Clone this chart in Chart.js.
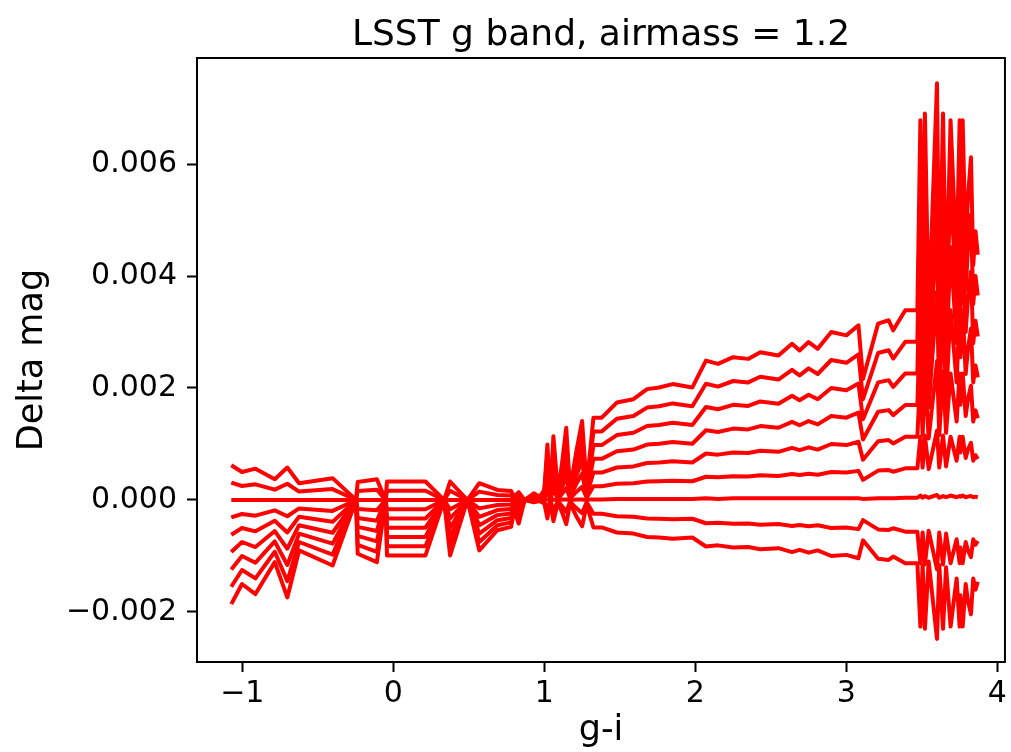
<!DOCTYPE html>
<html lang="en">
<head>
  <meta charset="UTF-8">
  <title>LSST g band, airmass = 1.2</title>
  <script src="https://cdn.jsdelivr.net/npm/chart.js"></script>
  <style>
    html, body { margin: 0; padding: 0; background: #fff; }
    #wrap { width: 1011px; height: 752px; }
  </style>
</head>
<body>
  <div id="wrap"><canvas id="chart" width="1011" height="752"></canvas></div>

  <script>
    // g-i colour of each star (shared by all curves)
    const giColor = [
      -1.073, -1.002, -0.913, -0.785, -0.702, -0.624, -0.402, -0.247, -0.236, -0.109,
      -0.051, -0.042, 0.213, 0.336, 0.376, 0.491, 0.569, 0.689, 0.78, 0.80,
      0.83, 0.869, 0.93, 0.97, 1.00, 1.02, 1.04, 1.06, 1.09, 1.12,
      1.145, 1.17, 1.21, 1.25, 1.28, 1.30, 1.325, 1.38, 1.48, 1.59,
      1.68, 1.76, 1.85, 1.98, 2.07, 2.15, 2.25, 2.35, 2.43, 2.55,
      2.64, 2.69, 2.75, 2.81, 2.90, 3.00, 3.08, 3.11, 3.21, 3.28,
      3.31, 3.39, 3.47, 3.49, 3.505, 3.52, 3.545, 3.60, 3.615, 3.64,
      3.66, 3.69, 3.73, 3.75, 3.755, 3.77, 3.79, 3.805, 3.825, 3.84,
      3.855, 3.87
    ];

    // delta mag per curve, in mmag
    const dmagLine1 = [
      0.62, 0.5, 0.56, 0.37, 0.58, 0.3, 0.39, 0, 0.32, 0.37,
      0, 0.33, 0.33, 0, 0.33, 0, 0.3, 0.18, 0.16, 0.06,
      0.14, 0, -0.04, -0.02, -0.06, -0.33, -0.02, -0.38, -0.04, -0.24,
      -0.43, -0.06, -0.28, -0.47, -0.08, -0.26, -0.49, -0.49, -0.58, -0.6,
      -0.66, -0.67, -0.69, -0.67, -0.83, -0.81, -0.85, -0.84, -0.88, -0.86,
      -0.93, -0.89, -0.94, -0.9, -1.0, -0.98, -1.04, -0.72, -1.05, -1.07,
      -1.01, -1.13, -1.13, -2.26, -1.16, -2.3, -1.1, -2.48, -1.16, -2.3,
      -1.2, -2.26, -1.4, -2.26, -1.7, -2.26, -1.5, -1.8, -2.04, -1.4,
      -1.6, -1.46
    ];
    const dmagLine2 = [
      0.31, 0.25, 0.28, 0.185, 0.29, 0.15, 0.195, 0, 0.16, 0.185,
      0, 0.165, 0.165, 0, 0.165, 0, 0.15, 0.09, 0.08, 0.03,
      0.07, 0, -0.02, -0.01, -0.03, -0.165, -0.01, -0.19, -0.02, -0.12,
      -0.215, -0.03, -0.14, -0.235, -0.04, -0.13, -0.245, -0.245, -0.29, -0.3,
      -0.33, -0.335, -0.345, -0.335, -0.415, -0.405, -0.425, -0.42, -0.44, -0.43,
      -0.465, -0.445, -0.47, -0.45, -0.5, -0.49, -0.52, -0.36, -0.525, -0.535,
      -0.505, -0.565, -0.565, -1.13, -0.58, -1.15, -0.55, -1.24, -0.58, -1.15,
      -0.6, -1.13, -0.7, -1.13, -0.85, -1.13, -0.75, -0.9, -1.02, -0.7,
      -0.8, -0.73
    ];
    const dmagLine3 = [
      0, 0, 0, 0, 0, 0, 0, 0, 0, 0,
      0, 0, 0, 0, 0, 0, 0, 0, 0, 0,
      0, 0, 0, 0, 0.01, 0.01, 0, 0.01, 0, 0.01,
      0.01, 0, 0.01, 0.01, 0, 0.01, 0.01, 0.01, 0.02, 0.02,
      0.02, 0.02, 0.02, 0.02, 0.03, 0.02, 0.03, 0.03, 0.03, 0.03,
      0.03, 0.03, 0.03, 0.03, 0.03, 0.03, 0.03, 0.02, 0.03, 0.03,
      0.03, 0.04, 0.04, 0.08, 0.04, 0.07, 0.04, 0.09, 0.04, 0.07,
      0.05, 0.08, 0.05, 0.07, 0.06, 0.08, 0.05, 0.06, 0.07, 0.05,
      0.06, 0.05
    ];
    const dmagLine4 = [
      -0.31, -0.25, -0.28, -0.185, -0.29, -0.15, -0.195, 0, -0.16, -0.185,
      0, -0.165, -0.165, 0, -0.165, 0, -0.15, -0.09, -0.08, -0.03,
      -0.07, 0, 0.02, 0.01, 0.03, 0.165, 0.01, 0.19, 0.02, 0.12,
      0.215, 0.03, 0.14, 0.235, 0.04, 0.13, 0.245, 0.245, 0.29, 0.30,
      0.33, 0.335, 0.345, 0.335, 0.415, 0.405, 0.425, 0.42, 0.44, 0.43,
      0.465, 0.445, 0.47, 0.45, 0.50, 0.49, 0.52, 0.36, 0.525, 0.535,
      0.505, 0.565, 0.565, 1.13, 0.58, 1.15, 0.55, 1.24, 0.58, 1.15,
      0.60, 1.13, 0.70, 1.13, 0.85, 1.13, 0.75, 0.90, 1.02, 0.70,
      0.80, 0.73
    ];
    const dmagLine5 = [
      -0.62, -0.5, -0.56, -0.37, -0.58, -0.3, -0.39, 0, -0.32, -0.37,
      0, -0.33, -0.33, 0, -0.33, 0, -0.3, -0.18, -0.16, -0.06,
      -0.14, 0, 0.04, 0.02, 0.06, 0.33, 0.02, 0.38, 0.04, 0.24,
      0.43, 0.06, 0.28, 0.47, 0.08, 0.26, 0.49, 0.49, 0.58, 0.6,
      0.66, 0.67, 0.69, 0.67, 0.83, 0.81, 0.85, 0.84, 0.88, 0.86,
      0.93, 0.89, 0.94, 0.9, 1.0, 0.98, 1.04, 0.72, 1.05, 1.07,
      1.01, 1.13, 1.13, 2.26, 1.16, 2.3, 1.1, 2.48, 1.16, 2.3,
      1.2, 2.26, 1.4, 2.26, 1.7, 2.26, 1.5, 1.8, 2.04, 1.4,
      1.6, 1.46
    ];
    const dmagLine6 = [
      -0.93, -0.75, -0.84, -0.555, -0.87, -0.45, -0.585, 0, -0.48, -0.555,
      0, -0.495, -0.495, 0, -0.495, 0, -0.45, -0.27, -0.24, -0.09,
      -0.21, 0, 0.06, 0.03, 0.09, 0.495, 0.03, 0.57, 0.06, 0.36,
      0.645, 0.09, 0.42, 0.705, 0.12, 0.39, 0.735, 0.735, 0.87, 0.9,
      0.99, 1.005, 1.035, 1.005, 1.245, 1.215, 1.275, 1.26, 1.32, 1.29,
      1.395, 1.335, 1.41, 1.35, 1.5, 1.47, 1.56, 1.08, 1.575, 1.605,
      1.515, 1.695, 1.695, 3.39, 1.74, 3.45, 1.65, 3.72, 1.74, 3.45,
      1.8, 3.39, 2.1, 3.39, 2.55, 3.39, 2.25, 2.7, 3.06, 2.1,
      2.4, 2.19
    ];
    const dmagLine7 = [
      -1.24, -1.0, -1.12, -0.74, -1.16, -0.6, -0.78, 0, -0.64, -0.74,
      0, -0.66, -0.66, 0, -0.66, 0, -0.6, -0.36, -0.32, -0.12,
      -0.28, 0, 0.08, 0.04, 0.12, 0.66, 0.04, 0.76, 0.08, 0.48,
      0.86, 0.12, 0.56, 0.94, 0.16, 0.52, 0.98, 0.98, 1.16, 1.2,
      1.32, 1.34, 1.38, 1.34, 1.66, 1.62, 1.7, 1.68, 1.76, 1.72,
      1.86, 1.78, 1.88, 1.8, 2.0, 1.96, 2.08, 1.44, 2.1, 2.14,
      2.02, 2.26, 2.26, 4.52, 2.32, 4.6, 2.2, 4.96, 2.32, 4.6,
      2.4, 4.52, 2.8, 4.52, 3.4, 4.52, 3.0, 3.6, 4.08, 2.8,
      3.2, 2.92
    ];
    const dmagLine8 = [
      -1.55, -1.25, -1.4, -0.925, -1.45, -0.75, -0.975, 0, -0.8, -0.925,
      0, -0.825, -0.825, 0, -0.825, 0, -0.75, -0.45, -0.4, -0.15,
      -0.35, 0, 0.1, 0.05, 0.15, 0.825, 0.05, 0.95, 0.1, 0.6,
      1.075, 0.15, 0.7, 1.175, 0.2, 0.65, 1.225, 1.225, 1.45, 1.5,
      1.65, 1.675, 1.725, 1.675, 2.075, 2.025, 2.125, 2.1, 2.2, 2.15,
      2.325, 2.225, 2.35, 2.25, 2.5, 2.45, 2.6, 1.8, 2.625, 2.675,
      2.525, 2.825, 2.825, 5.65, 2.9, 5.75, 2.75, 6.2, 2.9, 5.75,
      3.0, 5.65, 3.5, 5.65, 4.25, 5.65, 3.75, 4.5, 5.1, 3.5,
      4.0, 3.65
    ];
    const dmagLine9 = [
      -1.86, -1.5, -1.68, -1.11, -1.74, -0.9, -1.17, 0, -0.96, -1.11,
      0, -0.99, -0.99, 0, -0.99, 0, -0.9, -0.54, -0.48, -0.18,
      -0.42, 0, 0.12, 0.06, 0.18, 0.99, 0.06, 1.14, 0.12, 0.72,
      1.29, 0.18, 0.84, 1.41, 0.24, 0.78, 1.47, 1.47, 1.74, 1.8,
      1.98, 2.01, 2.07, 2.01, 2.49, 2.43, 2.55, 2.52, 2.64, 2.58,
      2.79, 2.67, 2.82, 2.7, 3.0, 2.94, 3.12, 2.16, 3.15, 3.21,
      3.03, 3.39, 3.39, 6.78, 3.48, 6.9, 3.3, 7.44, 3.48, 6.9,
      3.6, 6.78, 4.2, 6.78, 5.1, 6.78, 4.5, 5.4, 6.12, 4.2,
      4.8, 4.38
    ];

    const xTicks = [-1, 0, 1, 2, 3, 4];
    const yTicks = [-0.002, 0, 0.002, 0.004, 0.006];

    const FONT = '"DejaVu Sans", sans-serif';
    const MINUS = '\u2212';

    const curves = [dmagLine1, dmagLine2, dmagLine3, dmagLine4, dmagLine5,
                    dmagLine6, dmagLine7, dmagLine8, dmagLine9];
    const datasets = curves.map(vals => ({
      data: vals.map((v, i) => ({ x: giColor[i], y: v / 1000 })), // mmag -> mag
      borderColor: '#ff0000',
      borderWidth: 4,
      borderJoinStyle: 'round',
      pointRadius: 0,
      tension: 0,
      fill: false
    }));

    // matplotlib-style box round the axes
    const frame = {
      id: 'frame',
      afterDraw(chart) {
        const { ctx, chartArea: a } = chart;
        ctx.save();
        ctx.strokeStyle = '#000';
        ctx.lineWidth = 2;
        ctx.strokeRect(a.left, a.top, a.right - a.left, a.bottom - a.top);
        ctx.restore();
      }
    };

    const tickGrid = { drawOnChartArea: false, drawTicks: true, tickLength: 10, tickWidth: 2, tickColor: '#000' };

    new Chart(document.getElementById('chart'), {
      type: 'line',
      data: { datasets },
      options: {
        responsive: false,
        animation: false,
        layout: { padding: { left: 0, right: 6, top: 0, bottom: 0 } },
        plugins: {
          legend: { display: false },
          tooltip: { enabled: false },
          title: {
            display: true,
            fullSize: false,   // centre over the axes like matplotlib
            text: 'LSST g band, airmass = 1.2',
            color: '#000',
            font: { family: FONT, size: 36, weight: 'normal', lineHeight: 1 },
            padding: { top: 18, bottom: 4 }
          }
        },
        scales: {
          x: {
            type: 'linear',
            min: -1.30,
            max: 4.05,
            afterFit: s => { s.height = 90; },
            afterBuildTicks: s => { s.ticks = xTicks.map(v => ({ value: v })); },
            grid: tickGrid,
            border: { display: false },
            ticks: {
              autoSkip: false,
              maxRotation: 0,
              padding: 4,
              color: '#000',
              font: { family: FONT, size: 30 },
              callback: v => (v < 0 ? MINUS + Math.abs(v) : String(v))
            },
            title: {
              display: true,
              text: 'g-i',
              color: '#000',
              font: { family: FONT, size: 35, lineHeight: 1.2 },
              padding: { top: 0, bottom: 0 }
            }
          },
          y: {
            min: -0.0028929,
            max: 0.0078929,
            afterFit: s => { s.width = 197; },
            afterBuildTicks: s => { s.ticks = yTicks.map(v => ({ value: v })); },
            grid: tickGrid,
            border: { display: false },
            ticks: {
              autoSkip: false,
              padding: 10,
              color: '#000',
              font: { family: FONT, size: 30 },
              callback: v => v.toFixed(3).replace('-', MINUS)
            },
            title: {
              display: true,
              text: 'Delta mag',
              color: '#000',
              font: { family: FONT, size: 35, lineHeight: 1.2 },
              padding: { top: 12, bottom: 0 }
            }
          }
        }
      },
      plugins: [frame]
    });
  </script>
</body>
</html>
